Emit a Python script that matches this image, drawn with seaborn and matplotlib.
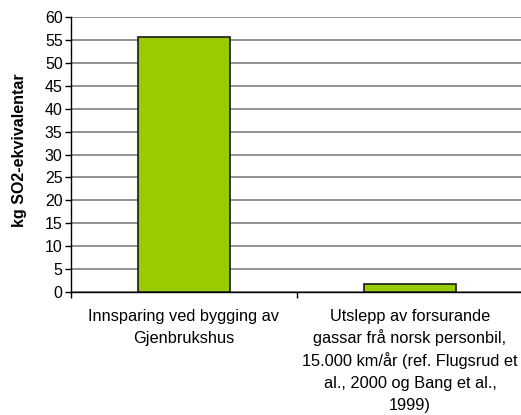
import matplotlib
matplotlib.use("Agg")
import matplotlib.pyplot as plt
import matplotlib.transforms as mtransforms
import seaborn as sns
import pandas as pd

categories = [
    "Innsparing ved bygging av\nGjenbrukshus",
    "Utslepp av forsurande\ngassar frå norsk personbil,\n15.000 km/år (ref. Flugsrud et\nal., 2000 og Bang et al.,\n1999)",
]
values = [55.7, 1.7]
y_ticks = list(range(0, 61, 5))

sns.set_theme(style="white")
plt.rcParams["font.family"] = ["Liberation Sans", "DejaVu Sans"]

df = pd.DataFrame({"kategori": categories, "verdi": values})

W, H = 521, 415
fig = plt.figure(figsize=(W / 100, H / 100), dpi=100)
ax = fig.add_axes([71 / W, 1 - 292 / H, 452 / W, 275 / H])

sns.barplot(data=df, x="kategori", y="verdi", color="#99cc00", width=0.41,
            edgecolor="#1a1a1a", linewidth=1.2, saturation=1, ax=ax, zorder=3)

ax.set_ylim(0, 60)
ax.set_xlim(-0.5, 1.5)
ax.set_yticks(y_ticks)
ax.set_yticklabels([str(t) for t in y_ticks], fontsize=11.5, color="black")
ax.yaxis.grid(True, color="#808080", linewidth=1.2, zorder=0)
ax.set_axisbelow(True)

# Category names: one text per line so the line spacing stays even
ax.set_xticks([0, 1])
ax.set_xticklabels(["", ""])
ax.tick_params(axis="x", length=0)
trans = mtransforms.blended_transform_factory(ax.transData, fig.transFigure)
for i, label in enumerate(categories):
    for j, line in enumerate(label.split("\n")):
        y_px = 321 + 22.3 * j
        ax.text(i, 1 - y_px / H, line, transform=trans, ha="center", va="baseline",
                fontsize=11.8, color="black")

ax.set_xticks([-0.5, 0.5, 1.5], minor=True)
ax.tick_params(axis="x", which="minor", length=4, width=1, color="black", direction="out", bottom=True)
ax.tick_params(axis="y", length=4, width=1, color="black", direction="out", left=True, pad=2)

for side in ["top", "right"]:
    ax.spines[side].set_visible(False)
for side in ["left", "bottom"]:
    ax.spines[side].set_color("black")
    ax.spines[side].set_linewidth(1)

ax.set_xlabel("")
ax.set_ylabel("")
fig.text(20 / W, 1 - 150 / H, "kg SO2-ekvivalentar", rotation=90, ha="center", va="center",
         fontsize=11.5, fontweight="bold", color="black")

fig.savefig("out.png", dpi=100, facecolor="white")
